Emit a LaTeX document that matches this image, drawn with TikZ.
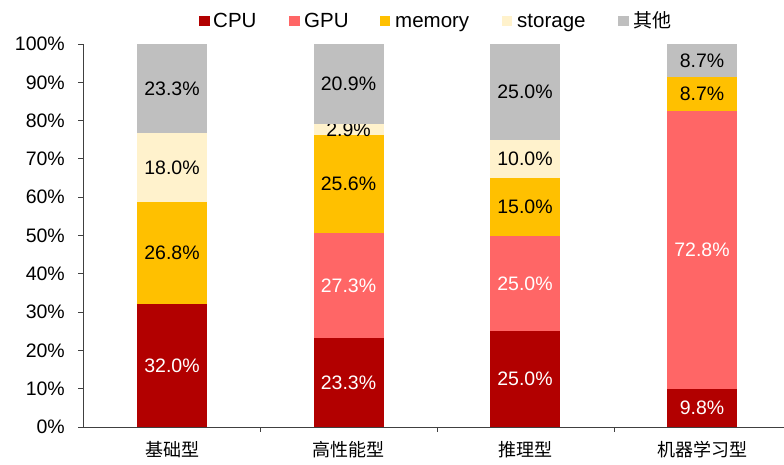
\documentclass[tikz,border=0pt]{standalone}
\usepackage{fontspec}
\setmainfont{Liberation Sans}
\newfontfamily\cjk{Noto Sans CJK SC}

\definecolor{cpucol}{HTML}{B20000}
\definecolor{gpucol}{HTML}{FF6666}
\definecolor{memcol}{HTML}{FFC000}
\definecolor{stocol}{HTML}{FFF2CC}
\definecolor{othcol}{HTML}{BFBFBF}
\definecolor{axiscol}{HTML}{404040}

\tikzset{
  axisline/.style={draw=axiscol, line width=0.9pt},
  ticklabel/.style={anchor=east, inner sep=0pt, font=\fontsize{19.5}{22}\selectfont},
  catlabel/.style={inner sep=0pt, font=\cjk\fontsize{18}{20}\selectfont},
  vallabel/.style={inner sep=0pt, font=\fontsize{19.5}{22}\selectfont},
  legendbox/.style={minimum size=10.5pt, inner sep=0pt},
  legendtext/.style={anchor=base west, inner sep=0pt, font=\fontsize{20.5}{22}\selectfont},
}

% one stacked bar: #1 = bar id, #2 = centre x, #3 = list of value/colour/label/text colour
\newcommand\stackbar[3]{%
  \gdef\barbase{0}%
  \foreach \v/\col/\txt/\tc in {#3}{%
    \pgfmathsetmacro\bartop{\barbase+\v}%
    \fill[\col] (#2-35,\barbase) rectangle (#2+35,\bartop);
    \node[vallabel, text=\tc] (v-#1-\col) at (#2,{(\barbase+\bartop)/2}) {\txt};
    \xdef\barbase{\bartop}%
  }%
}

\begin{document}
\begin{tikzpicture}[x=1pt, y=-1pt]
\useasboundingbox (0,0) rectangle (784,464);

% legend
\foreach \i/\col/\lx/\tx/\name in {1/cpucol/204.5/213/CPU, 2/gpucol/294.5/304/GPU, 3/memcol/385/395/memory, 4/stocol/507/517/storage}{
  \node[legendbox, fill=\col] (lk-\i) at (\lx,21) {};
  \node[legendtext] (lt-\i) at (\tx,27.5) {\name};
}
\node[legendbox, fill=othcol] (lk-5) at (623.5,21) {};
\node[legendtext, font=\cjk\fontsize{19}{22}\selectfont] (lt-5) at (633,27.5) {其他};

% bars, values in percent
\begin{scope}[shift={(0,427)}, y=3.83pt]
  \stackbar{1}{172}{32.0/cpucol/32.0\%/white, 26.8/memcol/26.8\%/black, 18.0/stocol/18.0\%/black, 23.2/othcol/23.3\%/black}
  \stackbar{2}{348.5}{23.3/cpucol/23.3\%/white, 27.3/gpucol/27.3\%/white, 25.6/memcol/25.6\%/black, 2.9/stocol/2.9\%/black, 20.9/othcol/20.9\%/black}
  \stackbar{3}{525}{25.0/cpucol/25.0\%/white, 25.0/gpucol/25.0\%/white, 15.0/memcol/15.0\%/black, 10.0/stocol/10.0\%/black, 25.0/othcol/25.0\%/black}
  \stackbar{4}{702}{9.8/cpucol/9.8\%/white, 72.8/gpucol/72.8\%/white, 8.7/memcol/8.7\%/black, 8.7/othcol/8.7\%/black}

  % value axis
  \coordinate (ybot) at (83,0);
  \coordinate (ytop) at (83,100);
  \draw[axisline] (ybot) -- (ytop);
  \foreach \t in {0,10,...,100}{
    \coordinate (yt-\t) at (83,\t);
    \draw[axisline] (yt-\t) -- ++(-5pt,0);
    \node[ticklabel] (yl-\t) at (65,\t) {\t\%};
  }

  % category axis
  \coordinate (xend) at (784,0);
  \draw[axisline] (ybot) -- (xend);
  \foreach \xt in {260,437,614}{
    \coordinate (xt-\xt) at (\xt,0);
    \draw[axisline] (xt-\xt) -- ++(0,-5pt);
  }
\end{scope}

% category labels
\node[catlabel] (c1) at (172,450) {基础型};
\node[catlabel] (c2) at (348.5,450) {高性能型};
\node[catlabel] (c3) at (525,450) {推理型};
\node[catlabel] (c4) at (702,450) {机器学习型};
\end{tikzpicture}
\end{document}
